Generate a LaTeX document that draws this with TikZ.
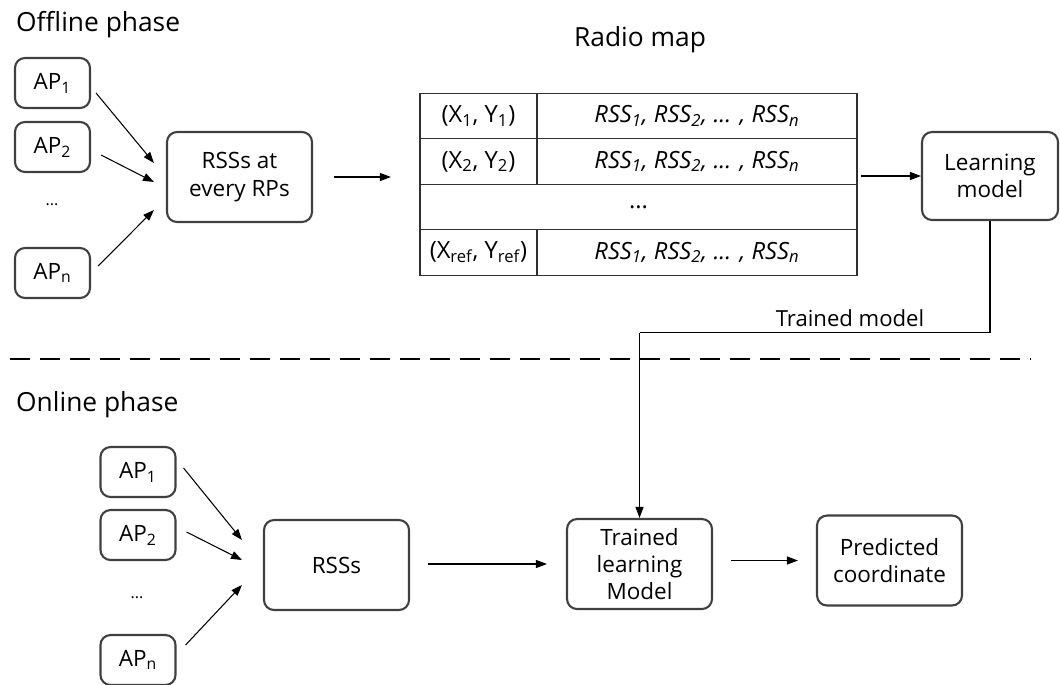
\documentclass[tikz,border=0pt]{standalone}
\usepackage{fontspec}
\setmainfont{Open Sans}
\usepackage{tikz}
\usetikzlibrary{arrows.meta,positioning,fit}
\definecolor{BoxGray}{HTML}{404040}
\definecolor{GridGray}{HTML}{303030}

\begin{document}
\begin{tikzpicture}[
  x=0.02cm,y=-0.02cm,
  box/.style={draw=BoxGray,rounded corners=0.2cm,line width=1.2pt,minimum width=2.9cm,
    minimum height=1.8cm,align=center,inner sep=1pt,font=\fontsize{12.8}{15.5}\selectfont},
  apbox/.style={box,minimum width=1.5cm,minimum height=1cm},
  cell/.style={draw=GridGray,line width=0.8pt,minimum height=0.91cm,inner sep=0pt,
    font=\fontsize{13.5}{16}\selectfont},
  title/.style={font=\fontsize{15}{18}\selectfont},
  arrow/.style={-{Triangle[length=2.2mm,width=1.6mm]},line width=0.6pt,color=black}
]
  \useasboundingbox (0,0) rectangle (1060,684);
  \node[title,anchor=west] (offline) at (10,25) {Offline phase};
  \node[apbox] (ap1) at (52.5,83) {AP\textsubscript{1}};
  \node[apbox] (ap2) at (52.5,147) {AP\textsubscript{2}};
  \node[font=\small] (dots1) at (52,205) {...};
  \node[apbox] (apn) at (52.5,273) {AP\textsubscript{n}};
  \node[box] (rss) at (239.5,177) {RSSs at\\every RPs};
  \node[title] (maptitle) at (640,40) {Radio map};
  \node[cell,minimum width=2.34cm] (c11) at (478.5,116) {(X\textsubscript{1}, Y\textsubscript{1})};
  \node[cell,minimum width=6.4cm] (c12) at (697,116) {\textit{RSS\textsubscript{1}, RSS\textsubscript{2}, ... , RSS\textsubscript{n}}};
  \node[cell,minimum width=2.34cm] (c21) at (478.5,161.5) {(X\textsubscript{2}, Y\textsubscript{2})};
  \node[cell,minimum width=6.4cm] (c22) at (697,161.5) {\textit{RSS\textsubscript{1}, RSS\textsubscript{2}, ... , RSS\textsubscript{n}}};
  \node[cell,minimum width=8.74cm] (cdots) at (638.5,207) {...};
  \node[cell,minimum width=2.34cm] (cr1) at (478.5,252.5) {(X\textsubscript{ref}, Y\textsubscript{ref})};
  \node[cell,minimum width=6.4cm] (cr2) at (697,252.5) {\textit{RSS\textsubscript{1}, RSS\textsubscript{2}, ... , RSS\textsubscript{n}}};
  \node[inner sep=0pt,fit=(c11)(cr2)] (map) {};
  \node[box,minimum width=2.72cm,minimum height=1.76cm] (learn) at (990,176) {Learning\\model};
  \node[font=\fontsize{12.6}{15}\selectfont] (trainlbl) at (850,318) {Trained model};
  \coordinate (dl) at (10,359);
  \coordinate (dr) at (1030,359);
  \node[title,anchor=west] (online) at (10,405) {Online phase};
  \node[apbox] (oap1) at (138,472) {AP\textsubscript{1}};
  \node[apbox] (oap2) at (138,535) {AP\textsubscript{2}};
  \node[font=\small] (dots2) at (137,598) {...};
  \node[apbox] (oapn) at (138,660) {AP\textsubscript{n}};
  \node[box] (orss) at (336.5,565) {RSSs};
  \node[box] (tlm) at (639.5,564) {Trained\\learning\\Model};
  \node[box] (pred) at (889.5,560.5) {Predicted\\coordinate};
  \draw[arrow] ([xshift=0.1cm,yshift=-0.2cm]ap1.east) -- ([xshift=-0.24cm,yshift=0.28cm]rss.west);
  \draw[arrow] ([xshift=0.2cm,yshift=-0.16cm]ap2.east) -- ([xshift=-0.24cm,yshift=-0.1cm]rss.west);
  \draw[arrow] ([xshift=0.14cm,yshift=0.14cm]apn.east) -- ([xshift=-0.24cm,yshift=-0.66cm]rss.west);
  \draw[arrow,shorten <=0.42cm] (rss.east) -- ([xshift=-0.56cm]map.west |- rss.east);
  \draw[arrow] ([xshift=0.06cm]map.east |- learn.west) -- (learn.west);
  \draw[line width=0.6pt] (learn.south) |- (tlm.north |- trainlbl.south);
  \draw[arrow] (tlm.north |- trainlbl.south) -- (tlm.north);
  \draw[line width=1.1pt,dash pattern=on 0.4cm off 0.2cm] (dl) -- (dr);
  \draw[arrow] ([xshift=0.14cm,yshift=0.08cm]oap1.east) -- ([xshift=-0.42cm,yshift=0.5cm]orss.west);
  \draw[arrow] ([xshift=0.2cm,yshift=0.06cm]oap2.east) -- ([xshift=-0.42cm,yshift=0.1cm]orss.west);
  \draw[arrow] ([xshift=0.18cm,yshift=0.3cm]oapn.east) -- ([xshift=-0.42cm,yshift=-0.4cm]orss.west);
  \draw[arrow,shorten <=0.36cm,shorten >=0.38cm] (orss.east |- tlm.west) -- (tlm.west);
  \draw[arrow,shorten >=0.36cm] ([xshift=0.36cm]tlm.east |- pred.west) -- (pred.west);
\end{tikzpicture}
\end{document}
